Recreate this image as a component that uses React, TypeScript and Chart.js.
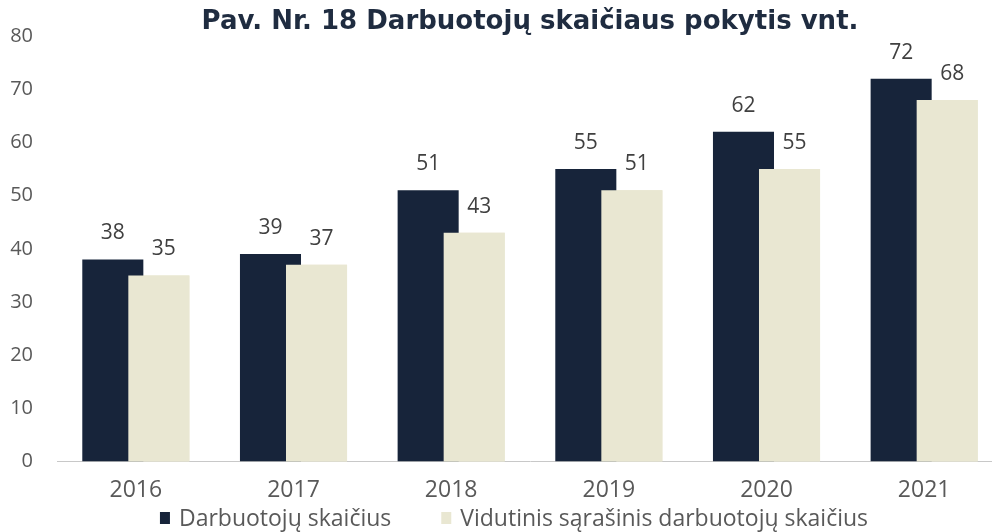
import React, { useEffect, useRef } from "react";
import { Chart, registerables } from "chart.js";

Chart.register(...registerables);

const years = ["2016", "2017", "2018", "2019", "2020", "2021"];
const employees = [38, 39, 51, 55, 62, 72];
const avgListed = [35, 37, 43, 51, 55, 68];
const seriesNames = ["Darbuotojų skaičius", "Vidutinis sąrašinis darbuotojų skaičius"];
const titleText = "Pav. Nr. 18 Darbuotojų skaičiaus pokytis vnt.";

const DARK = "#17243a";
const LIGHT = "#e9e7d2";
const TEXT = "#595959";

const overlayPlugin = {
  id: "overlayAndLabels",
  afterDatasetsDraw(chart: any) {
    const ctx = chart.ctx;
    // light bars overlap the dark ones
    chart.getDatasetMeta(1).controller.draw();
    ctx.save();
    ctx.font = "21px 'Open Sans'";
    ctx.fillStyle = "#404040";
    ctx.textAlign = "center";
    ctx.textBaseline = "middle";
    chart.data.datasets.forEach((ds: any, di: number) => {
      const meta = chart.getDatasetMeta(di);
      meta.data.forEach((el: any, i: number) => {
        const dx = di === 1 ? 5 : 0;
        ctx.fillText(String(ds.data[i]), el.x + dx, el.y - 26);
      });
    });
    ctx.restore();
  },
  afterDraw(chart: any) {
    // bottom legend
    const ctx = chart.ctx;
    ctx.save();
    ctx.font = "23px 'Open Sans'";
    const boxW = 10, boxH = 12, gap = 9, itemGap = 50;
    const ds = chart.data.datasets;
    const widths = ds.map((d: any) => ctx.measureText(d.label).width);
    const total = widths.reduce((a: number, w: number) => a + boxW + gap + w, 0) + itemGap * (ds.length - 1);
    let x = 514 - total / 2;
    const baseline = 526;
    ds.forEach((d: any, i: number) => {
      ctx.fillStyle = d.backgroundColor;
      ctx.fillRect(x, baseline - 14, boxW, boxH);
      x += boxW + gap;
      ctx.fillStyle = TEXT;
      ctx.textAlign = "left";
      ctx.textBaseline = "alphabetic";
      ctx.fillText(d.label, x, baseline);
      x += widths[i] + itemGap;
    });
    ctx.restore();
  },
};

export default function App() {
  const ref = useRef<HTMLCanvasElement>(null);
  useEffect(() => {
    const chart = new Chart(ref.current!, {
      type: "bar",
      data: {
        labels: years,
        datasets: [
          { label: seriesNames[0], data: employees, backgroundColor: DARK, categoryPercentage: 0.584, barPercentage: 1.326 },
          { label: seriesNames[1], data: avgListed, backgroundColor: LIGHT, categoryPercentage: 0.584, barPercentage: 1.326 },
        ],
      },
      options: {
        responsive: false,
        animation: false,
        layout: { padding: { left: 0, right: 7, top: 0, bottom: 13 } },
        plugins: {
          title: {
            display: true,
            text: titleText,
            fullSize: false,
            color: "#1f2c40",
            font: { family: "'DejaVu Sans'", size: 26, weight: "bold" },
            padding: { top: 7, bottom: -2 },
          },
          legend: { display: false },
          tooltip: { enabled: false },
        },
        scales: {
          x: {
            grid: { display: false, drawTicks: false },
            border: { display: true, color: "#c8c8c8", width: 1 },
            ticks: { color: TEXT, font: { family: "'Open Sans'", size: 23 }, padding: 15 },
          },
          y: {
            min: 0,
            max: 80,
            grid: { display: false, drawTicks: false },
            border: { display: false },
            ticks: { stepSize: 10, color: TEXT, font: { family: "'Open Sans'", size: 20 }, padding: 24 },
            afterFit: (s: any) => { s.width = 57; },
          },
        },
      },
      plugins: [overlayPlugin],
    });
    return () => chart.destroy();
  }, []);
  return (
    <div style={{ position: "fixed", left: 0, top: 0, width: 992, height: 532, overflow: "hidden", background: "#fff" }}>
      <canvas ref={ref} width={1010} height={532} />
    </div>
  );
}
